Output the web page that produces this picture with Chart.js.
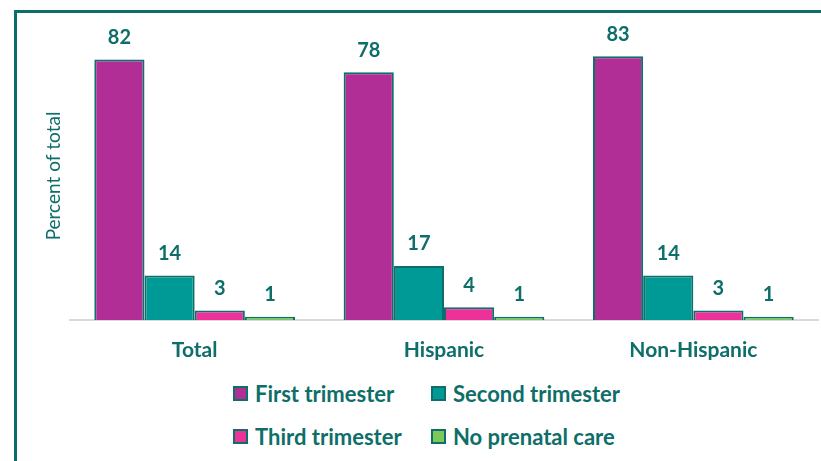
<!DOCTYPE html>
<html lang="en">
<head>
  <meta charset="UTF-8">
  <title>Trimester prenatal care began</title>
  <script src="https://cdn.jsdelivr.net/npm/chart.js"></script>
  <style>
    html, body { margin: 0; padding: 0; background: #fff; }
    #frame { position: absolute; left: 14px; top: 10px; width: 807px; height: 451px;
             border-left: 3px solid #0b6e6b; border-top: 3px solid #0b6e6b; }
    #wrap { position: absolute; left: 0; top: 0; width: 821px; height: 380px; }
    #legend { position: absolute; left: 233px; top: 380px; width: 440px;
              display: grid; grid-template-columns: 198px 220px; row-gap: 17px;
              font-family: Lato, sans-serif; font-weight: bold; font-size: 22px; color: #0e6e6a; }
    .item { display: flex; align-items: center; height: 26px; }
    .box { width: 11px; height: 11px; border: 2px solid #0e6e6a; margin-right: 7px; }
  </style>
</head>
<body>
  <div id="frame"></div>
  <div id="wrap"><canvas id="chart" width="821" height="380"></canvas></div>
  <div id="legend"></div>

  <script>
    const categories = ['Total', 'Hispanic', 'Non-Hispanic'];
    const seriesNames = ['First trimester', 'Second trimester', 'Third trimester', 'No prenatal care'];
    const firstTrimester = [82, 78, 83];
    const secondTrimester = [14, 17, 14];
    const thirdTrimester = [3, 4, 3];
    const noCare = [1, 1, 1];
    const colors = ['#b12e97', '#009a96', '#ee3199', '#7cc95a'];
    const textColor = '#0e6e6a';
    const yTitle = 'Percent of total';

    const seriesValues = [firstTrimester, secondTrimester, thirdTrimester, noCare];

    // value labels above each bar, plus the rotated axis title
    const valueLabels = {
      id: 'valueLabels',
      afterDatasetsDraw(chart) {
        const ctx = chart.ctx;
        ctx.save();
        ctx.font = 'bold 20px Lato, sans-serif';
        ctx.fillStyle = textColor;
        ctx.textAlign = 'center';
        ctx.textBaseline = 'middle';
        chart.data.datasets.forEach((ds, i) => {
          chart.getDatasetMeta(i).data.forEach((bar, j) => {
            ctx.fillText(ds.data[j], bar.x, bar.y - 22);
          });
        });
        ctx.font = '19px Lato, sans-serif';
        ctx.translate(54, 176);
        ctx.rotate(-Math.PI / 2);
        ctx.fillText(yTitle, 0, 0);
        ctx.restore();
      }
    };

    const chart = new Chart(document.getElementById('chart'), {
      type: 'bar',
      data: {
        labels: categories,
        datasets: seriesNames.map((name, i) => ({
          label: name,
          data: seriesValues[i],
          backgroundColor: colors[i],
          borderColor: textColor,
          borderWidth: 2,
          borderSkipped: 'bottom',
          barPercentage: 1,
          categoryPercentage: 0.805
        }))
      },
      options: {
        responsive: false,
        animation: false,
        layout: { padding: { left: 70, right: 3, top: 34, bottom: 20 } },
        plugins: {
          legend: { display: false },
          tooltip: { enabled: false }
        },
        scales: {
          x: {
            grid: { display: false },
            border: { color: '#d9d9d9', width: 2 },
            ticks: { color: textColor, font: { family: 'Lato, sans-serif', weight: 'bold', size: 21 }, padding: 10 },
            afterFit: (s) => { s.height = 40; }
          },
          y: {
            display: false,
            min: 0,
            max: 90
          }
        }
      },
      plugins: [valueLabels]
    });

    const legend = document.getElementById('legend');
    seriesNames.forEach((name, i) => {
      const item = document.createElement('div');
      item.className = 'item';
      const box = document.createElement('span');
      box.className = 'box';
      box.style.background = colors[i];
      item.appendChild(box);
      item.appendChild(document.createTextNode(name));
      legend.appendChild(item);
    });
  </script>
</body>
</html>
